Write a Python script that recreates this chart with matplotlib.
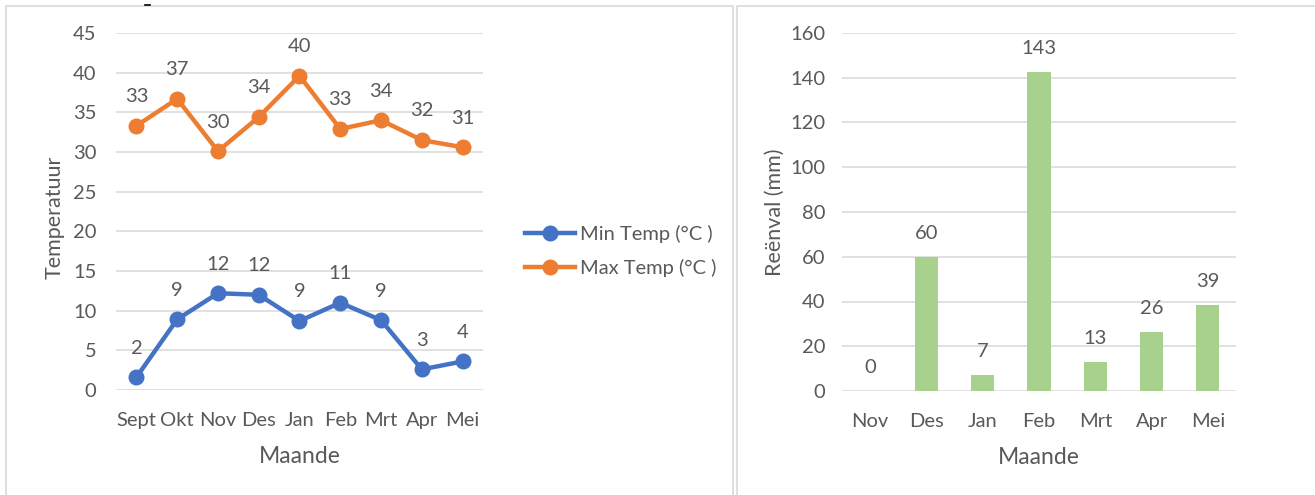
import math
import matplotlib
matplotlib.use("Agg")
import matplotlib.pyplot as plt
from matplotlib.patches import Rectangle
from matplotlib.lines import Line2D

plt.rcParams['font.family'] = ['Lato', 'DejaVu Sans']

months_t = ["Sept", "Okt", "Nov", "Des", "Jan", "Feb", "Mrt", "Apr", "Mei"]
min_temp = [1.6, 8.9, 12.2, 12.0, 8.7, 11.0, 8.8, 2.6, 3.6]
max_temp = [33.3, 36.7, 30.1, 34.4, 39.6, 32.9, 34.0, 31.5, 30.6]

months_r = ["Nov", "Des", "Jan", "Feb", "Mrt", "Apr", "Mei"]
rain = [0, 60, 7, 142.6, 12.8, 26.2, 38.6]

GRAY = "#595959"
GRID = "#D9D9D9"
BLUE = "#4472C4"
ORANGE = "#ED7D31"
GREEN = "#A9D18E"

TICK_FS = 14.5


def fmt(v):
    return f"{int(math.floor(v + 0.5))}"


W, H = 1315, 495
fig = plt.figure(figsize=(W / 100, H / 100), dpi=100)
fig.patch.set_facecolor("white")

# panel borders
fig.add_artist(Rectangle((6 / W, -0.1), (733 - 6) / W, 1.1 - 6 / H, transform=fig.transFigure,
                         fill=False, edgecolor="#D9D9D9", linewidth=1.2))
fig.add_artist(Rectangle((737 / W, -0.1), 0.5, 1.1 - 6 / H, transform=fig.transFigure,
                         fill=False, edgecolor="#D9D9D9", linewidth=1.2))
fig.add_artist(Line2D([145 / W, 150 / W], [1 - 5 / H, 1 - 5 / H], transform=fig.transFigure,
                      color="black", linewidth=1.2))


def style(ax):
    for s in ax.spines.values():
        s.set_visible(False)
    ax.grid(axis="y", color=GRID, linewidth=1.1)
    ax.set_axisbelow(True)
    ax.tick_params(axis="both", length=0, colors=GRAY, labelsize=TICK_FS)
    ax.tick_params(axis="x", pad=16)
    ax.tick_params(axis="y", pad=14)


# Left: line chart
ax1 = fig.add_axes([116 / W, 1 - 390 / H, 367 / W, 357 / H])
x1 = range(len(months_t))
ax1.plot(x1, min_temp, color=BLUE, linewidth=3.2, marker="o", markersize=10.5, label="Min Temp (°C )")
ax1.plot(x1, max_temp, color=ORANGE, linewidth=3.2, marker="o", markersize=10.5, label="Max Temp (°C )")
for xi, v in zip(x1, min_temp):
    ax1.annotate(fmt(v), (xi, v), xytext=(0, 21), textcoords="offset points",
                 ha="center", va="center", fontsize=TICK_FS, color=GRAY)
for xi, v in zip(x1, max_temp):
    ax1.annotate(fmt(v), (xi, v), xytext=(0, 21), textcoords="offset points",
                 ha="center", va="center", fontsize=TICK_FS, color=GRAY)
ax1.set_xlim(-0.5, len(months_t) - 0.5)
ax1.set_ylim(0, 45)
ax1.set_yticks(range(0, 46, 5))
ax1.set_xticks(list(x1))
ax1.set_xticklabels(months_t)
style(ax1)
ax1.set_xlabel("Maande", fontsize=16.5, color=GRAY, labelpad=12)
ax1.set_ylabel("Temperatuur", fontsize=15.5, color=GRAY)
ax1.yaxis.set_label_coords(-0.139, 0.485)

fig.legend(loc="center left", bbox_to_anchor=(507 / W, 1 - 251 / H), frameon=False,
           fontsize=TICK_FS, labelcolor=GRAY, handlelength=2.5, handletextpad=0.2,
           labelspacing=0.8)

# Right: bar chart
ax2 = fig.add_axes([842 / W, 1 - 391 / H, 394 / W, 358 / H])
x2 = range(len(months_r))
ax2.bar(x2, rain, width=0.41, color=GREEN)
for xi, v in zip(x2, rain):
    ax2.annotate(fmt(v), (xi, v), xytext=(0, 17), textcoords="offset points",
                 ha="center", va="center", fontsize=TICK_FS, color=GRAY)
ax2.set_xlim(-0.5, len(months_r) - 0.5)
ax2.set_ylim(0, 160)
ax2.set_yticks(range(0, 161, 20))
ax2.set_xticks(list(x2))
ax2.set_xticklabels(months_r)
style(ax2)
ax2.tick_params(axis="y", pad=12)
ax2.set_xlabel("Maande", fontsize=16.5, color=GRAY, labelpad=12)
ax2.set_ylabel("Reënval (mm)", fontsize=15.5, color=GRAY)
ax2.yaxis.set_label_coords(-0.145, 0.5)

fig.savefig("out.png", dpi=100)
